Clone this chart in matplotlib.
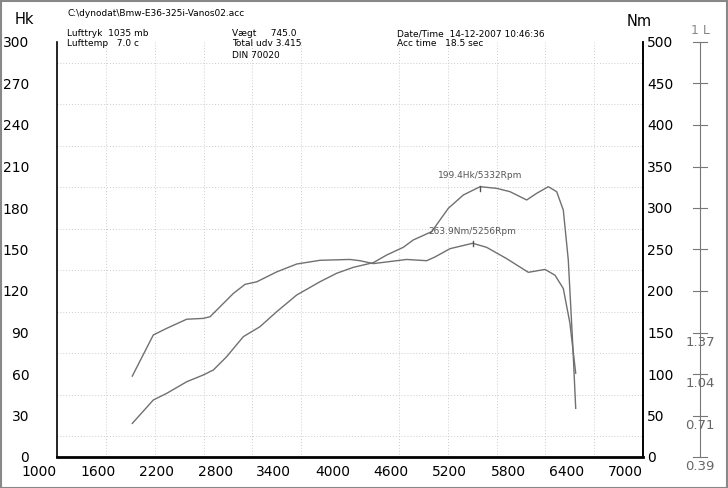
import matplotlib
matplotlib.use("Agg")
import matplotlib.pyplot as plt
import numpy as np

rpm_p = [1771,1986,2123,2328,2498,2601,2737,2908,3078,3249,3454,3693,3863,4034,4239,4375,4546,4648,4836,5007,5160,5332,5502,5638,5809,5911,6031,6116,6184,6235,6280,6311]
hk = [24.3,41.2,46,54.4,59.3,62.9,72.5,87,94.2,105,117.1,126.7,132.8,137.1,140.5,146,151.6,156.9,162.9,179.8,189.4,195.4,194.2,191.8,185.8,190.6,195.4,191.8,178.5,142.4,82.2,35.2]
rpm_t = [1771,1986,2123,2328,2498,2567,2669,2805,2925,3044,3249,3454,3693,3999,4102,4239,4375,4580,4785,4870,5024,5256,5399,5604,5826,5997,6099,6184,6252,6311]
nm = [97.5,147,155,166,167,169,181,197,208,211,223,232.5,237,238,236.5,233,235,238,236.5,241,251,257.5,252.6,239,222.5,226,219,203,161,101]
xticks = [1000,1600,2200,2800,3400,4000,4600,5200,5800,6400,7000]
hk_ticks = [0,30,60,90,120,150,180,210,240,270,300]
nm_ticks = [0,50,100,150,200,250,300,350,400,450,500]
l_labels = ["0.39","0.71","1.04","1.37"]

fig = plt.figure(figsize=(7.28,4.88), dpi=100)
fig.patches.append(plt.Rectangle((0.001,0.001),0.998,0.997,transform=fig.transFigure,fill=False,ec="#888888",lw=1.5))
ax = fig.add_axes([57/728, 1-457/488, 586/728, 415/488])
ax.set_xlim(1000,7000); ax.set_ylim(0,300)
ax.plot(rpm_p, hk, color="#707070", lw=1)
ax.plot(rpm_t, np.array(nm)*0.6, color="#707070", lw=1)
ax.spines["top"].set_visible(False)
ax.spines["left"].set_linewidth(1.2)
ax.spines["right"].set_linewidth(1.2)
ax.spines["bottom"].set_linewidth(2)
ax.set_xticks(xticks); ax.set_xticklabels([str(v) for v in xticks], ha="right")
ax.set_yticks(hk_ticks)
ax.set_xticks(np.arange(1000,7001,500), minor=True)
ax.set_yticks(np.arange(0,301,15), minor=True)
ax.tick_params(axis="y", which="both", length=0, pad=20, labelsize=10)
ax.tick_params(axis="x", which="both", length=0, pad=6, labelsize=10)
ax.grid(which="minor", color="#cccccc", ls=(0,(1,2)), lw=0.7)
ax2 = ax.twinx()
ax2.set_ylim(0,500)
ax2.set_yticks(nm_ticks)
ax2.tick_params(axis="y", length=0, pad=3, labelsize=10)
for s in ["top","left","bottom"]:
    ax2.spines[s].set_visible(False)
ax2.spines["right"].set_linewidth(1.2)
# peak markers
ax.plot([5332,5332],[192,196],color="#555555",lw=1)
ax.text(5332,200,"199.4Hk/5332Rpm",fontsize=6.5,ha="center",va="bottom",color="#555555")
ax.plot([5256,5256],[152.5,156.5],color="#555555",lw=1)
ax.text(5256,160,"263.9Nm/5256Rpm",fontsize=6.5,ha="center",va="bottom",color="#555555")
# right-hand L scale
ax3 = fig.add_axes([57/728, 1-457/488, 586/728, 415/488], frameon=False)
ax3.set_xlim(0,1); ax3.set_ylim(0,500); ax3.axis("off")
xl = 1 + (700-643)/586
ax3.plot([xl,xl],[0,500],color="#777777",lw=0.8,clip_on=False)
for v in nm_ticks:
    ax3.plot([xl-0.012,xl+0.012],[v,v],color="#777777",lw=0.8,clip_on=False)
for v,t in zip([0,50,100,150],l_labels):
    ax3.text(xl,v-12,t,ha="center",va="center",fontsize=9.5,color="#666666",clip_on=False)
fig.text(700/728,1-31/488,"1 L",ha="center",va="center",fontsize=9,color="#888888")
fig.text(15/728,1-19/488,"Hk",fontsize=10.5,va="center")
fig.text(627/728,1-22/488,"Nm",fontsize=10.5,va="center")
hf = dict(fontsize=6.5, va="center")
fig.text(67/728,1-13/488,"C:\\dynodat\\Bmw-E36-325i-Vanos02.acc",**hf)
fig.text(67/728,1-34/488,"Lufttryk  1035 mb",**hf)
fig.text(67/728,1-44/488,"Lufttemp   7.0 c",**hf)
fig.text(232/728,1-34/488,"Vægt     745.0",**hf)
fig.text(232/728,1-44/488,"Total udv 3.415",**hf)
fig.text(232/728,1-55/488,"DIN 70020",**hf)
fig.text(397/728,1-34/488,"Date/Time  14-12-2007 10:46:36",**hf)
fig.text(397/728,1-44/488,"Acc time   18.5 sec",**hf)
fig.savefig("out.png", dpi=100)
